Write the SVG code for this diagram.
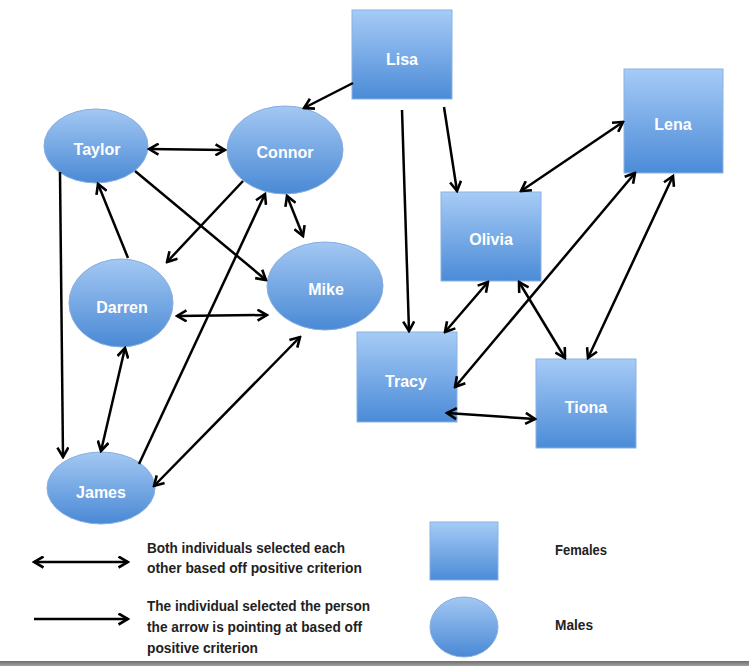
<svg xmlns="http://www.w3.org/2000/svg" width="749" height="666" viewBox="0 0 749 666">
<defs>
<linearGradient id="gf" x1="0" y1="0" x2="0" y2="1">
<stop offset="0" stop-color="#a6cbf6"/>
<stop offset="1" stop-color="#4b8bd7"/>
</linearGradient>
<linearGradient id="gm" x1="0" y1="0" x2="0" y2="1">
<stop offset="0" stop-color="#a3c8f3"/>
<stop offset="1" stop-color="#4a89d5"/>
</linearGradient>
<linearGradient id="gbar" x1="0" y1="0" x2="0" y2="1">
<stop offset="0" stop-color="#6f6f6f"/>
<stop offset="1" stop-color="#a0a0a0"/>
</linearGradient>
<marker id="arr" viewBox="0 0 13 13" refX="11" refY="6.5" markerWidth="13" markerHeight="13" markerUnits="userSpaceOnUse" orient="auto-start-reverse">
<path d="M1.5,1 L11,6.5 L1.5,12" fill="none" stroke="#000" stroke-width="2.6" stroke-linejoin="miter"/>
</marker>
</defs>
<style>
.f{fill:url(#gf);stroke:#8ab2e2;stroke-width:1}
.m{fill:url(#gm);stroke:#86aee0;stroke-width:1}
.lbl{font-family:"Liberation Sans",Arial,sans-serif;font-weight:bold;font-size:16px;fill:#ffffff;text-anchor:middle}
.leg{font-family:"Liberation Sans",Arial,sans-serif;font-weight:bold;font-size:14px;fill:#222222}
.c{fill:none;stroke:#000;stroke-width:2.5}
.one{marker-end:url(#arr)}
.two{marker-start:url(#arr);marker-end:url(#arr)}
</style>
<rect width="749" height="666" fill="#ffffff"/>

<g id="Lisa"><rect class="f" x="352" y="10" width="100" height="89"/><text class="lbl" x="402" y="65">Lisa</text></g>
<g id="Lena"><rect class="f" x="624" y="69" width="99" height="104"/><text class="lbl" x="673" y="130">Lena</text></g>
<g id="Olivia"><rect class="f" x="441" y="192" width="100" height="89"/><text class="lbl" x="491" y="245">Olivia</text></g>
<g id="Tracy"><rect class="f" x="357" y="332" width="100" height="90"/><text class="lbl" x="406" y="387">Tracy</text></g>
<g id="Tiona"><rect class="f" x="536" y="359" width="100" height="89"/><text class="lbl" x="586" y="413">Tiona</text></g>

<g id="Taylor"><ellipse class="m" cx="96" cy="146" rx="52" ry="37"/><text class="lbl" x="97" y="155">Taylor</text></g>
<g id="Connor"><ellipse class="m" cx="285" cy="150" rx="58" ry="44"/><text class="lbl" x="285" y="158">Connor</text></g>
<g id="Mike"><ellipse class="m" cx="325" cy="286" rx="58" ry="44"/><text class="lbl" x="326" y="295">Mike</text></g>
<g id="Darren"><ellipse class="m" cx="121" cy="303" rx="52" ry="44"/><text class="lbl" x="122" y="313">Darren</text></g>
<g id="James"><ellipse class="m" cx="101" cy="488" rx="54" ry="36"/><text class="lbl" x="101" y="498">James</text></g>

<g id="connectors">
<line class="c one" x1="353" y1="83" x2="304" y2="108"/>
<line class="c two" x1="149" y1="149" x2="225" y2="150"/>
<line class="c one" x1="135" y1="171" x2="266" y2="280"/>
<line class="c one" x1="243" y1="181" x2="167" y2="262"/>
<line class="c two" x1="287" y1="196" x2="303" y2="236"/>
<line class="c one" x1="128" y1="258" x2="98" y2="184"/>
<line class="c one" x1="139" y1="464" x2="265" y2="194"/>
<line class="c two" x1="177" y1="316" x2="267" y2="315"/>
<line class="c one" x1="60" y1="172" x2="63" y2="457"/>
<line class="c two" x1="125" y1="348" x2="101" y2="451"/>
<line class="c two" x1="154" y1="486" x2="300" y2="337"/>
<line class="c one" x1="402" y1="110" x2="409" y2="331"/>
<line class="c one" x1="444" y1="107" x2="457" y2="191"/>
<line class="c two" x1="521" y1="191" x2="623" y2="122"/>
<line class="c two" x1="455" y1="387" x2="635" y2="173"/>
<line class="c two" x1="588" y1="358" x2="673" y2="176"/>
<line class="c two" x1="488" y1="282" x2="445" y2="332"/>
<line class="c two" x1="519" y1="282" x2="565" y2="358"/>
<line class="c two" x1="447" y1="413" x2="535" y2="419"/>
</g>

<g id="legend">
<line class="c two" x1="34" y1="562" x2="128" y2="562"/>
<line class="c one" x1="34" y1="619" x2="128" y2="619" stroke-width="3"/>
<text class="leg" x="147" y="553" textLength="198" lengthAdjust="spacingAndGlyphs">Both individuals selected each</text>
<text class="leg" x="147" y="573" textLength="215" lengthAdjust="spacingAndGlyphs">other based off positive criterion</text>
<text class="leg" x="147" y="611" textLength="223" lengthAdjust="spacingAndGlyphs">The individual selected the person</text>
<text class="leg" x="147" y="632" textLength="215" lengthAdjust="spacingAndGlyphs">the arrow is pointing at based off</text>
<text class="leg" x="147" y="653" textLength="111" lengthAdjust="spacingAndGlyphs">positive criterion</text>
<rect class="f" x="430" y="522" width="68" height="58"/>
<ellipse class="m" cx="464" cy="627" rx="34" ry="30"/>
<text class="leg" x="555" y="555" textLength="52" lengthAdjust="spacingAndGlyphs">Females</text>
<text class="leg" x="555" y="630" textLength="38" lengthAdjust="spacingAndGlyphs">Males</text>
</g>
<rect x="0" y="661" width="749" height="5" fill="url(#gbar)"/>
</svg>
